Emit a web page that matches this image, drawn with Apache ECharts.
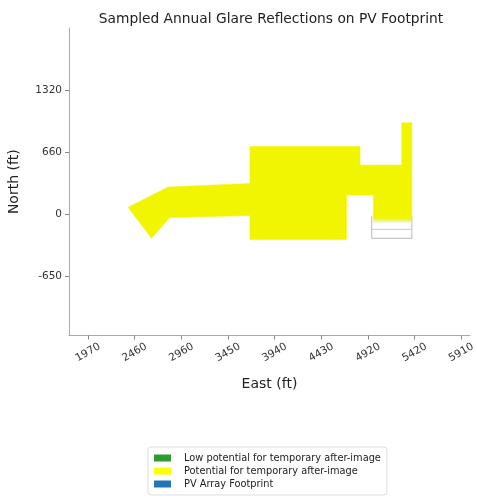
<!DOCTYPE html>
<html>
<head>
<meta charset="utf-8">
<script src="https://cdn.jsdelivr.net/npm/echarts@6/dist/echarts.min.js"></script>
<style>html,body{margin:0;padding:0;background:#fff;}#c{width:477px;height:502px;}</style>
</head>
<body>
<div id="c"></div>
<script>
// Glare polygon (East ft, North ft)
var glareEast  = [2393, 2815, 3679, 3679, 4841, 4841, 5282, 5282, 5388, 5388, 4982, 4982, 4699, 4699, 3679, 3679, 2833, 2640];
var glareNorth = [74,   290,  328,  721,  721,  524,  524,  974,  974,  -40,  -40,  205,  205,  -268, -268, -13,  -34,  -255];
// fading lower edge of glare in the south-east block
var fadeEast  = [4982, 5388, 5388, 4982];
var fadeNorth = [-40, -40, -110, -110];
// PV footprint outline visible at south-east block
var footEast  = [4965, 4965, 5388, 5388];
var footNorth = [-20, -255, -255, -20];
var footLineEast = [4965, 5388];
var footLineNorth = [-160, -160];
// ticks
var xTickValues = [1970, 2462.5, 2955, 3447.5, 3940, 4432.5, 4925, 5417.5, 5910];
var xTickLabels = ['1970', '2460', '2960', '3450', '3940', '4430', '4920', '5420', '5910'];
var yTickValues = [-660, 0, 660, 1320];
var yTickLabels = ['-650', '0', '660', '1320'];
var legendNames = ['Low potential for temporary after-image', 'Potential for temporary after-image', 'PV Array Footprint'];

function pts(api, xs, ys) {
  var p = [];
  for (var i = 0; i < xs.length; i++) p.push(api.coord([xs[i], ys[i]]));
  return p;
}
var FONT = 'DejaVu Sans';
var chart = echarts.init(document.getElementById('c'), null, {renderer: 'canvas'});
chart.setOption({
  animation: false,
  backgroundColor: '#fff',
  textStyle: {fontFamily: FONT},
  title: {
    text: 'Sampled Annual Glare Reflections on PV Footprint',
    left: 266, top: 7, textAlign: 'center',
    textStyle: {fontFamily: FONT, fontSize: 13.8, fontWeight: 'normal', color: '#222'}
  },
  grid: {left: 69, top: 28, width: 401, height: 307.5, outerBoundsMode: 'none', containLabel: false},
  xAxis: {
    type: 'value', min: 1769, max: 6002,
    name: 'East (ft)', nameLocation: 'middle', nameGap: 42,
    nameTextStyle: {fontFamily: FONT, fontSize: 14, color: '#222'},
    axisLine: {show: true, onZero: false, lineStyle: {color: '#aaa', width: 1}},
    axisTick: {show: true, length: 4, customValues: xTickValues, lineStyle: {color: '#888'}},
    splitLine: {show: false},
    axisLabel: {
      customValues: xTickValues, rotate: 30, margin: 17, align: 'center', verticalAlign: 'middle',
      fontFamily: FONT, fontSize: 10.5, color: '#333',
      formatter: function (v) { var i = xTickValues.indexOf(v); return i >= 0 ? xTickLabels[i] : ''; }
    }
  },
  yAxis: {
    type: 'value', min: -1289, max: 1982,
    name: 'North (ft)', nameLocation: 'middle', nameGap: 48, nameRotate: 90,
    nameTextStyle: {fontFamily: FONT, fontSize: 14, color: '#222'},
    axisLine: {show: true, onZero: false, lineStyle: {color: '#aaa', width: 1}},
    axisTick: {show: true, length: 4, customValues: yTickValues, lineStyle: {color: '#888'}},
    splitLine: {show: false},
    axisLabel: {
      customValues: yTickValues, margin: 7, fontFamily: FONT, fontSize: 10.5, color: '#333',
      formatter: function (v) { var i = yTickValues.indexOf(v); return i >= 0 ? yTickLabels[i] : ''; }
    }
  },
  legend: {
    orient: 'vertical', left: 148, top: 447,
    data: legendNames,
    itemWidth: 17, itemHeight: 7, itemGap: 3,
    icon: 'rect',
    padding: [6, 6, 6, 6],
    borderColor: '#ddd', borderWidth: 1, borderRadius: 3,
    textStyle: {fontFamily: FONT, fontSize: 9.8, color: '#222', padding: [0, 0, 0, 8]}
  },
  series: [
    {
      name: legendNames[0], type: 'custom', data: [], itemStyle: {color: '#2e9b2e'},
      renderItem: function () { return null; }
    },
    {
      name: legendNames[2], type: 'custom', data: [[0]], itemStyle: {color: '#2077b4'}, z: 1,
      renderItem: function (params, api) {
        return {type: 'group', children: [
          {type: 'polyline', shape: {points: pts(api, footEast, footNorth)}, style: {stroke: '#b8b8b8', lineWidth: 1, fill: null}},
          {type: 'polyline', shape: {points: pts(api, footLineEast, footLineNorth)}, style: {stroke: '#cccccc', lineWidth: 1, fill: null}}
        ]};
      }
    },
    {
      name: legendNames[1], type: 'custom', data: [[0]], itemStyle: {color: '#ffff00'}, z: 3,
      renderItem: function (params, api) {
        return {type: 'group', children: [
          {type: 'polygon', shape: {points: pts(api, glareEast, glareNorth)}, style: {fill: '#f2f500', stroke: '#f2f500', lineWidth: 0.5}},
          {type: 'polygon', shape: {points: pts(api, fadeEast, fadeNorth)}, style: {
            fill: new echarts.graphic.LinearGradient(0, 0, 0, 1, [
              {offset: 0, color: 'rgba(242,245,0,1)'},
              {offset: 0.5, color: 'rgba(215,235,120,0.6)'},
              {offset: 1, color: 'rgba(255,255,255,0)'}
            ])
          }}
        ]};
      }
    }
  ]
});
</script>
</body>
</html>
